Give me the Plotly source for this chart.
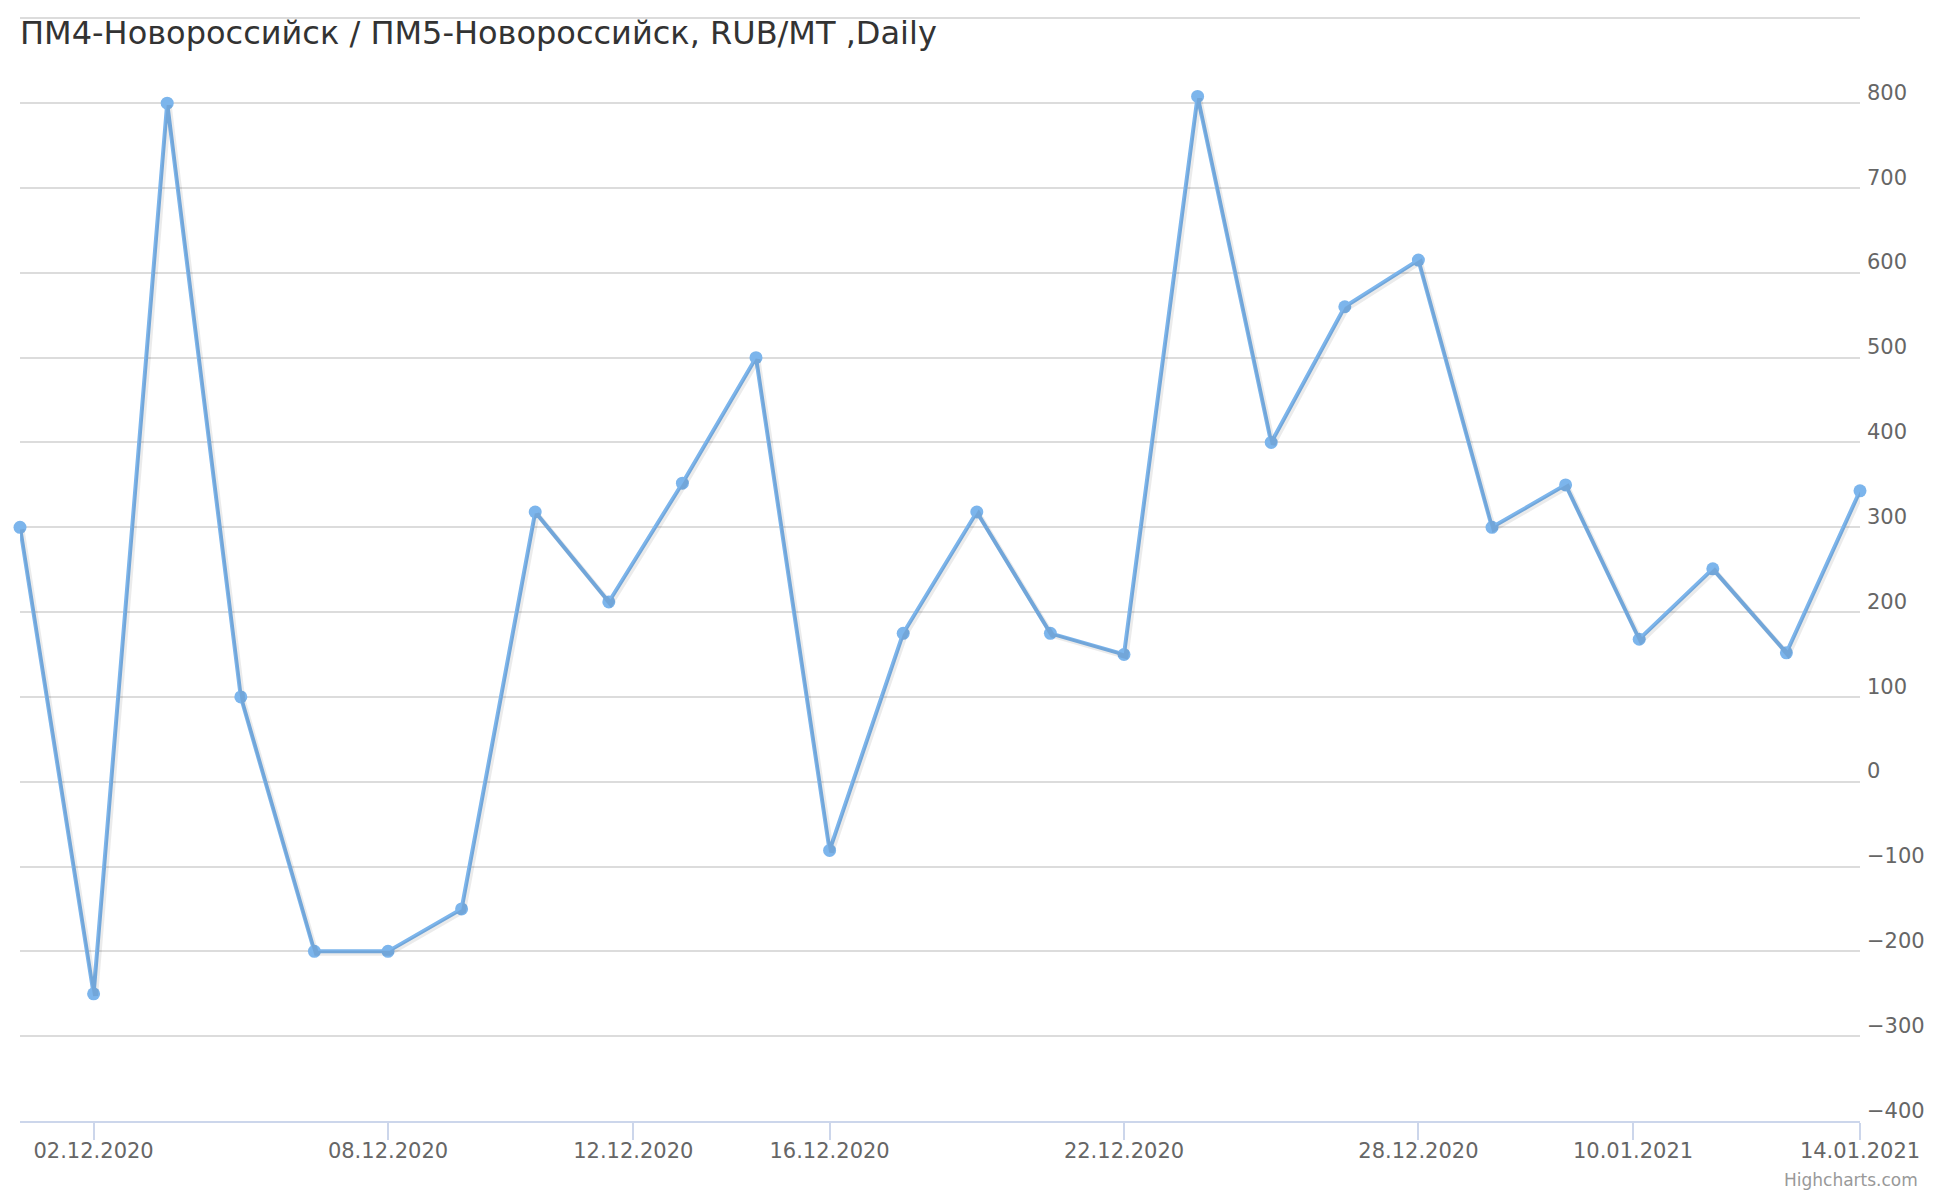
import numpy as np
import pandas as pd
import plotly.graph_objects as go

# trading days and spread values
dates = ["01.12.2020", "02.12.2020", "03.12.2020", "04.12.2020", "07.12.2020",
         "08.12.2020", "09.12.2020", "10.12.2020", "11.12.2020", "14.12.2020",
         "15.12.2020", "16.12.2020", "17.12.2020", "18.12.2020", "21.12.2020",
         "22.12.2020", "23.12.2020", "24.12.2020", "25.12.2020", "28.12.2020",
         "29.12.2020", "30.12.2020", "11.01.2021", "12.01.2021", "13.01.2021",
         "14.01.2021"]
values = [300, -250, 800, 100, -200, -200, -150, 318, 212, 352,
          500, -81, 175, 318, 175, 150, 808, 400, 560, 615,
          300, 350, 168, 251, 152, 343]

tick_dates = ["02.12.2020", "08.12.2020", "12.12.2020", "16.12.2020",
              "22.12.2020", "28.12.2020", "10.01.2021", "14.01.2021"]
y_ticks = [-400, -300, -200, -100, 0, 100, 200, 300, 400, 500, 600, 700, 800, 900]

title = "ПМ4-Новороссийск / ПМ5-Новороссийск, RUB/MT ,Daily"

W, H = 1924, 1184
FONT = "DejaVu Sans"
LINE = "#7cb5ec"

# ordinal axis: position of each date among the trading days
day_num = pd.to_datetime(dates, format="%d.%m.%Y").map(pd.Timestamp.toordinal)
tick_num = pd.to_datetime(tick_dates, format="%d.%m.%Y").map(pd.Timestamp.toordinal)
idx = np.arange(len(dates))
tick_pos = np.interp(np.array(tick_num), np.array(day_num), idx)

# a little headroom so the top grid line is drawn
x_range = [0, len(dates) - 1]
y_range = [y_ticks[0], y_ticks[-1] + 4]

margin = dict(l=12, r=72, t=7, b=71, autoexpand=False)
plot_w = W - margin["l"] - margin["r"]
plot_h = H - margin["t"] - margin["b"]

# small offset for a soft shadow like the original
dx = 2 * (x_range[1] - x_range[0]) / plot_w
dy = 2 * (y_range[1] - y_range[0]) / plot_h

fig = go.Figure()

fig.add_trace(go.Scatter(
    x=idx, y=values, mode="lines",
    line=dict(color="rgba(0,0,0,0.08)", width=5),
    xaxis="x2", yaxis="y2", hoverinfo="skip", showlegend=False,
))

fig.add_trace(go.Scatter(
    x=idx, y=values, mode="lines+markers",
    line=dict(color=LINE, width=4),
    marker=dict(color=LINE, size=13),
    cliponaxis=False,
    text=dates,
    hovertemplate="%{text}: %{y}<extra></extra>",
    showlegend=False,
))

fig.update_layout(
    width=W, height=H,
    margin=margin,
    paper_bgcolor="white",
    plot_bgcolor="white",
    font=dict(family=FONT, color="#666666", size=21),
    title=dict(
        text=title,
        x=margin["l"] / W, xanchor="left", xref="container",
        y=1 - 25 / H, yanchor="middle", yref="container",
        font=dict(family=FONT, size=32, color="#333333"),
    ),
    xaxis=dict(
        range=x_range,
        tickvals=tick_pos,
        ticktext=tick_dates,
        ticks="outside", ticklen=17, tickwidth=2, tickcolor="#ccd6eb",
        ticklabelstandoff=-7,
        showline=True, linecolor="#ccd6eb", linewidth=2,
        showgrid=False, zeroline=False, automargin=False,
        tickfont=dict(size=21, color="#666666"),
    ),
    yaxis=dict(
        range=y_range,
        side="right",
        tickvals=y_ticks,
        ticktext=[str(v).replace("-", "\u2212") if v != y_ticks[-1] else "" for v in y_ticks],
        ticklabelposition="outside top",
        ticks="", ticklabelstandoff=6, ticklabelshift=4,
        showgrid=True, gridcolor="#dcdcdc", gridwidth=1.5,
        zeroline=False, showline=False, automargin=False,
        tickfont=dict(size=21, color="#666666"),
    ),
    xaxis2=dict(range=[x_range[0] - dx, x_range[1] - dx], overlaying="x",
                visible=False),
    yaxis2=dict(range=[y_range[0] + dy, y_range[1] + dy], overlaying="y",
                visible=False),
    annotations=[dict(
        text="Highcharts.com",
        xref="paper", yref="paper",
        x=1 + (1912 - margin["l"] - plot_w) / plot_w, xanchor="right",
        y=-(1172 - margin["t"] - plot_h) / plot_h, yanchor="middle",
        showarrow=False,
        font=dict(family=FONT, size=17, color="#999999"),
    )],
)

fig.write_html("out.html")
